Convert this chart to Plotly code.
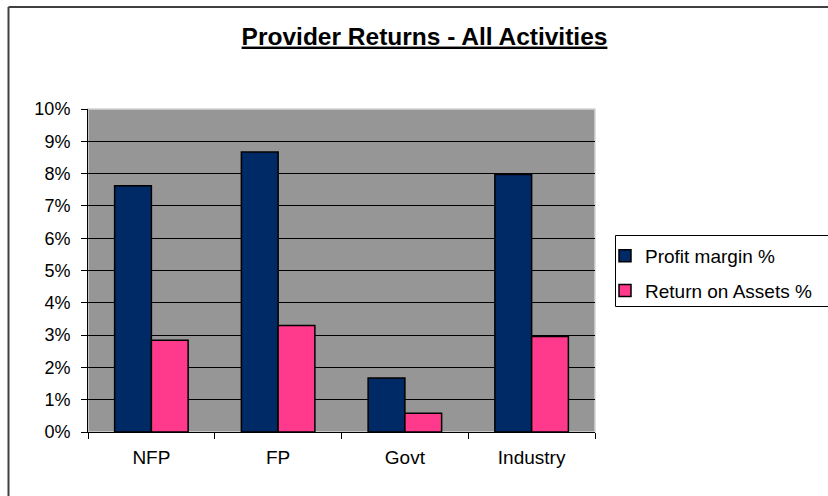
import plotly.graph_objects as go

categories = ["NFP", "FP", "Govt", "Industry"]
profit_margin = [0.0762, 0.0867, 0.0167, 0.0797]
return_on_assets = [0.0284, 0.0330, 0.0058, 0.0296]
y_ticks = [i / 100 for i in range(0, 11)]
y_tick_labels = [f"{i}%" for i in range(0, 11)]

FONT = "Arial, 'Liberation Sans', sans-serif"
W, H = 828, 496
L, R, T, B = 88, 233, 109, 64
pw, ph = W - L - R, H - T - B


def px_x(px):
    return (px - L) / pw


def px_y(py):
    return (H - B - py) / ph


fig = go.Figure()
fig.add_trace(go.Bar(
    name="Profit margin %", x=categories, y=profit_margin,
    marker=dict(color="#002A66", line=dict(color="black", width=1.5)),
    legendgroup="a",
))
fig.add_trace(go.Bar(
    name="Return on Assets %", x=categories, y=return_on_assets,
    marker=dict(color="#FF3A8C", line=dict(color="black", width=1.5)),
    legendgroup="b",
))

fig.update_layout(
    width=W, height=H,
    margin=dict(l=L, r=R, t=T, b=B, autoexpand=False),
    paper_bgcolor="white",
    plot_bgcolor="#969696",
    barmode="group",
    bargap=0.42,
    bargroupgap=0,
    font=dict(family=FONT, color="black", size=18),
    title=dict(
        text="<b>Provider Returns - All Activities</b>",
        font=dict(family=FONT, size=24.5, color="black", lineposition="under"),
        x=424.5 / W, xanchor="center", xref="container",
        y=1 - 36 / H, yanchor="middle", yref="container",
    ),
    showlegend=True,
    legend=dict(
        x=px_x(605), xanchor="left",
        y=px_y(237), yanchor="top",
        borderwidth=0,
        bgcolor="rgba(0,0,0,0)",
        font=dict(family=FONT, size=19, color="black"),
        traceorder="grouped", tracegroupgap=7,
        itemwidth=30,
    ),
    xaxis=dict(
        showline=True, linecolor="black", linewidth=1,
        ticks="outside", tickson="boundaries", ticklen=6, tickcolor="black",
        showgrid=False,
        ticklabelstandoff=8,
        tickfont=dict(family=FONT, size=19, color="black"),
    ),
    yaxis=dict(
        range=[0, 0.1],
        tickvals=y_ticks, ticktext=y_tick_labels,
        showline=True, linecolor="black", linewidth=1,
        ticks="outside", ticklen=6, tickcolor="black",
        showgrid=True, gridcolor="black", gridwidth=1,
        zeroline=False,
        ticklabelstandoff=7,
        tickfont=dict(family=FONT, size=18, color="black"),
    ),
    shapes=[
        dict(type="rect", xref="paper", yref="paper", x0=0, x1=1, y0=0, y1=1,
             line=dict(color="#d4d4d4", width=1.5), layer="below"),
        # outer chart frame (top and left edges visible)
        dict(type="line", xref="paper", yref="paper",
             x0=px_x(8.5), x1=px_x(W + 10), y0=px_y(7), y1=px_y(7),
             line=dict(color="#404040", width=2)),
        dict(type="line", xref="paper", yref="paper",
             x0=px_x(8.5), x1=px_x(8.5), y0=px_y(7), y1=px_y(H + 10),
             line=dict(color="#404040", width=2)),
        # legend box
        dict(type="rect", xref="paper", yref="paper",
             x0=px_x(615.5), x1=px_x(W + 10), y0=px_y(306.5), y1=px_y(235.5),
             line=dict(color="black", width=1), layer="below",
             fillcolor="white"),
    ],
)

fig.write_html(
    "out.html",
    config={"displayModeBar": False},
    post_script="document.body.style.margin='0';document.body.style.overflow='hidden';",
)
